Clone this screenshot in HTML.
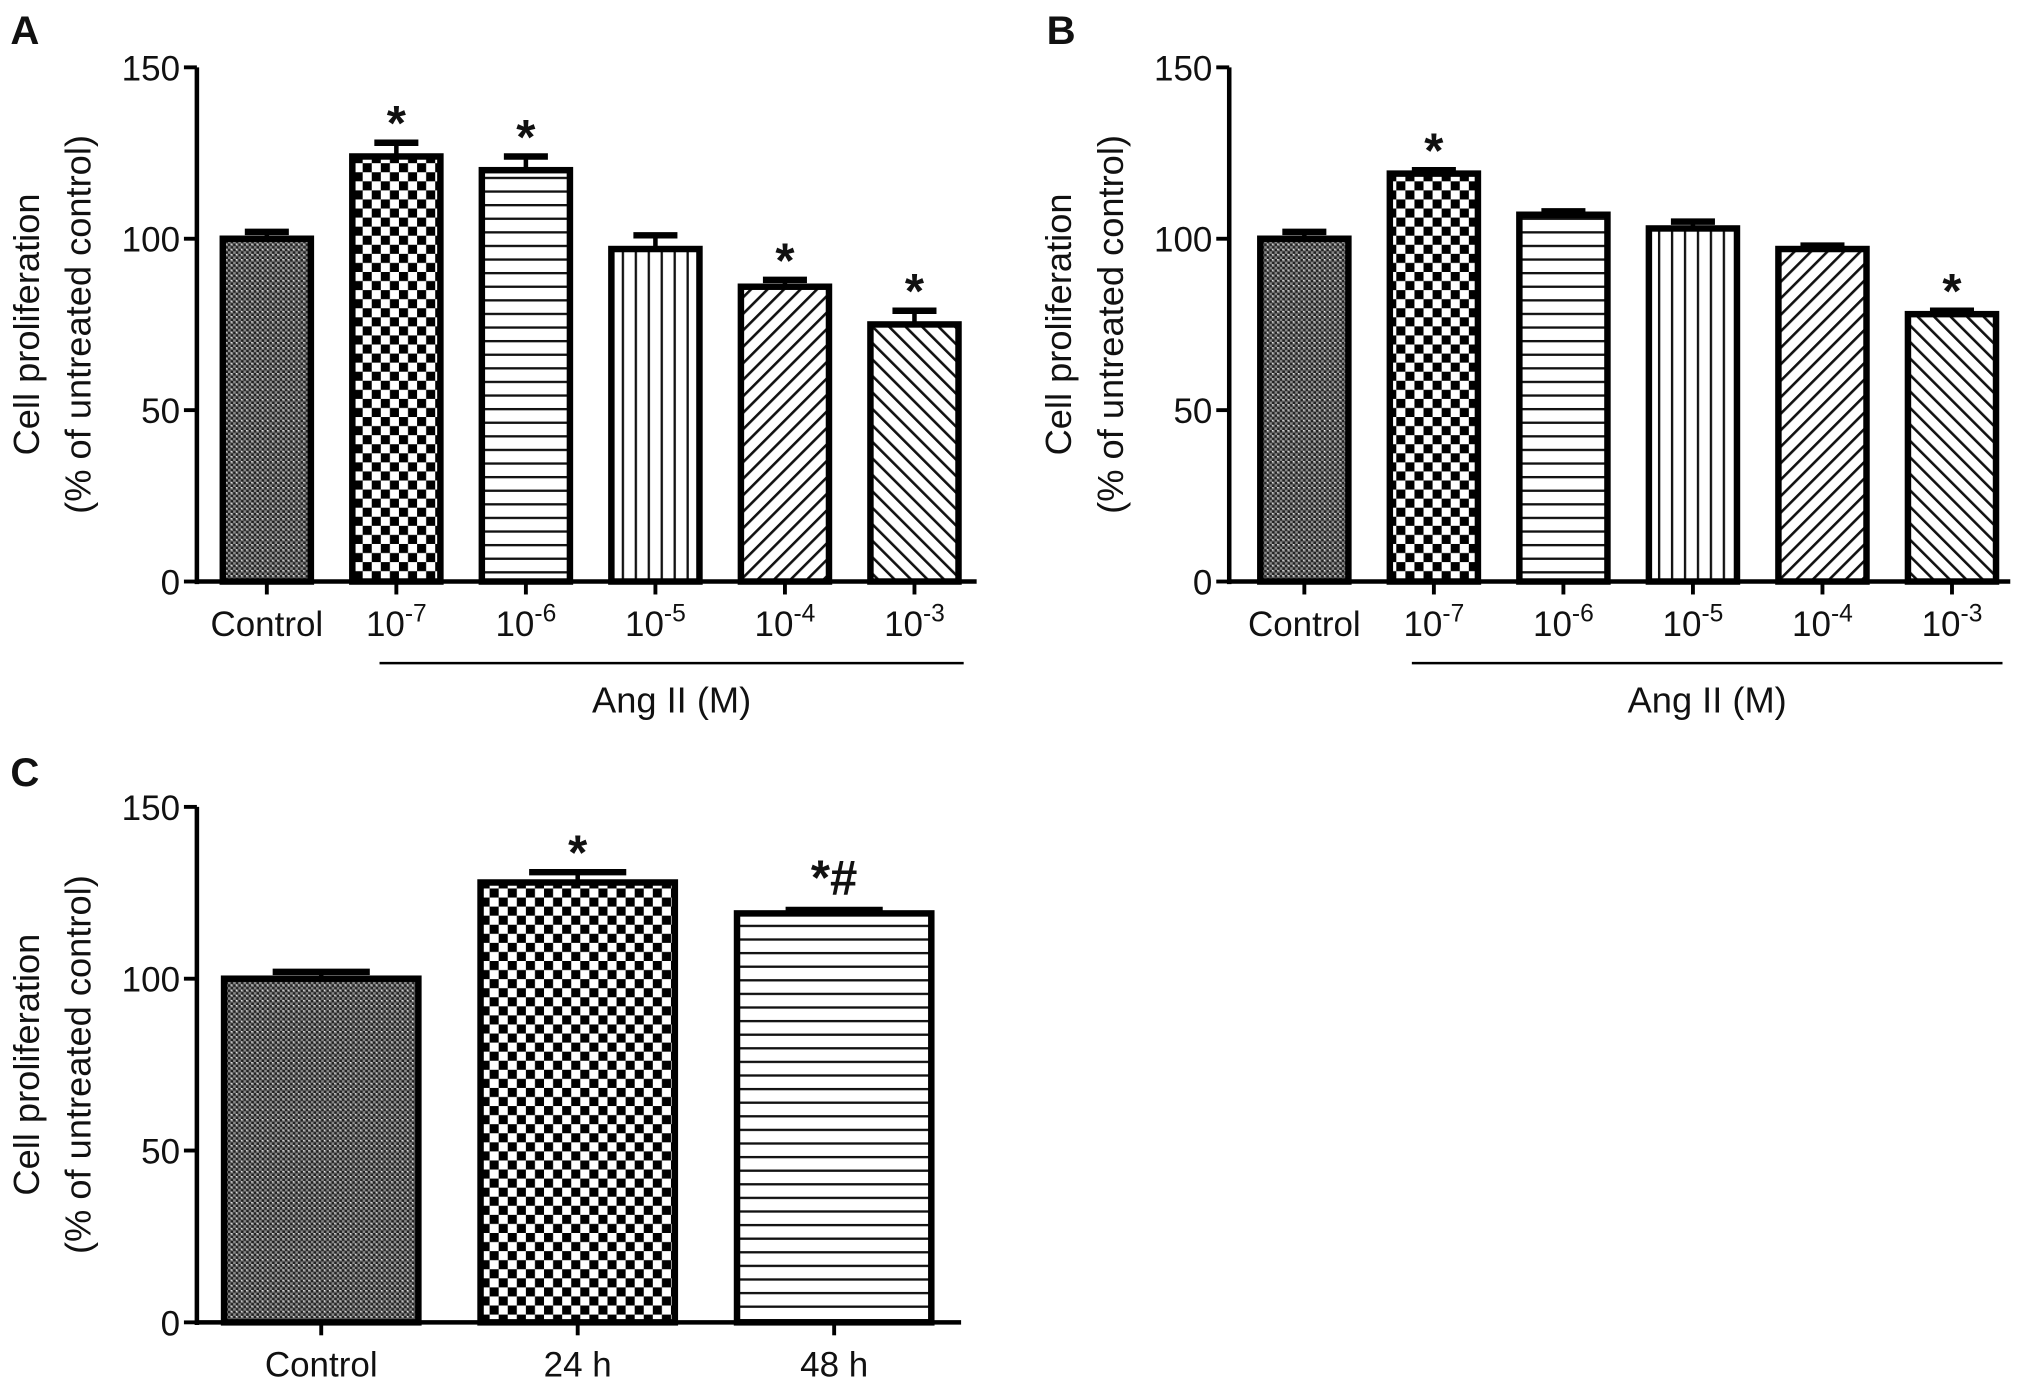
<!DOCTYPE html>
<html><head><meta charset="utf-8"><style>
html,body{margin:0;padding:0;background:#fff}
svg{display:block}
text{font-family:"Liberation Sans",Arial,sans-serif;fill:#111}
</style></head><body>
<svg id="fig" width="2031" height="1391" viewBox="0 0 1568 1074" preserveAspectRatio="none" xmlns="http://www.w3.org/2000/svg">
<defs>
<pattern id="p-fine" width="4" height="4" patternUnits="userSpaceOnUse"><rect width="4" height="4" fill="#888"/><rect width="2" height="2" fill="#222"/><rect x="2" y="2" width="2" height="2" fill="#222"/><rect x="2" width="1" height="1" fill="#eee"/></pattern>
<pattern id="p-checker" width="14" height="14" patternUnits="userSpaceOnUse"><rect width="14" height="14" fill="#fff"/><rect width="7" height="7" fill="#000"/><rect x="7" y="7" width="7" height="7" fill="#000"/></pattern>
<pattern id="p-hline" width="10" height="10.5" patternUnits="userSpaceOnUse"><rect width="10" height="10.5" fill="#fff"/><rect y="0" width="10" height="1.8" fill="#111"/></pattern>
<pattern id="p-vline" width="10" height="10" patternUnits="userSpaceOnUse"><rect width="10" height="10" fill="#fff"/><rect x="0" width="1.8" height="10" fill="#111"/></pattern>
<pattern id="p-diag1" width="9" height="9" patternUnits="userSpaceOnUse" patternTransform="rotate(45)"><rect width="9" height="9" fill="#fff"/><rect width="2" height="9" fill="#111"/></pattern>
<pattern id="p-diag2" width="9" height="9" patternUnits="userSpaceOnUse" patternTransform="rotate(-45)"><rect width="9" height="9" fill="#fff"/><rect width="2" height="9" fill="#111"/></pattern>
</defs>
</svg>
<script>
const catsAB = ["Control","10|-7","10|-6","10|-5","10|-4","10|-3"];
const valsA = [100,124,120,97,86,75];
const errA = [2,4,4,4,2,4];
const starA = ["","*","*","","*","*"];
const valsB = [100,119,107,103,97,78];
const errB = [2,1,1,2,1,1];
const starB = ["","*","","","","*"];
const catsC = ["Control","24 h","48 h"];
const valsC = [100,128,119];
const errC = [2,3,1];
const starC = ["","*","*#"];
const yTicks = [0,50,100,150];
const patsAB = ["p-fine","p-checker","p-hline","p-vline","p-diag1","p-diag2"];
const patsC = ["p-fine","p-checker","p-hline"];

const NS="http://www.w3.org/2000/svg";
const svg=document.getElementById('fig');
function mk(tag,attrs,parent){const e=document.createElementNS(NS,tag);for(const k in attrs)e.setAttribute(k,attrs[k]);(parent||svg).appendChild(e);return e;}

function panel(cfg){
  const g=mk('g',{});
  
  
  const y=v=>cfg.y0-(v/150)*(cfg.y0-cfg.y150);
  const x=i=>cfg.c0+i*cfg.step;
  const lt=mk('text',{x:cfg.lx,y:cfg.ly,'font-size':31,'font-weight':'bold'},g);lt.textContent=cfg.letter;
  
  
  cfg.vals.forEach((v,i)=>{
    const cx=x(i),w=cfg.bw;
    const eb=mk('g',{},g);
    
    
    mk('line',{x1:cx,x2:cx,y1:y(v),y2:y(v+cfg.err[i]),stroke:'#000','stroke-width':3.5},eb);
    mk('line',{x1:cx-w*0.25,x2:cx+w*0.25,y1:y(v+cfg.err[i]),y2:y(v+cfg.err[i]),stroke:'#000','stroke-width':5},eb);
    const r=mk('rect',{x:cx-w/2,y:y(v),width:w,height:y(0)-y(v),fill:'url(#'+cfg.pats[i]+')',stroke:'#000','stroke-width':5},g);
    
    
    if(cfg.stars[i]){
      const s=mk('text',{x:cx,y:y(v+cfg.err[i])-2+(cfg.stars[i].length>1?-10:0),'font-size':38,'font-weight':'bold','text-anchor':'middle'},g);
      s.textContent=cfg.stars[i];
      
      
    }
    mk('line',{x1:cx,x2:cx,y1:y(0),y2:y(0)+10,stroke:'#000','stroke-width':3},g);
    const t=mk('text',{x:cx,y:cfg.y0+42,'font-size':27,'text-anchor':'middle'},g);
    const parts=cfg.cats[i].split('|');
    t.textContent=parts[0];
    if(parts[1]){const sp=mk('tspan',{dy:-11,'font-size':19},t);sp.textContent=parts[1];}
    
    
  });
  const ax=mk('g',{},g);
  
  
  mk('line',{x1:cfg.ax,x2:cfg.ax,y1:y(150),y2:y(0)+2,stroke:'#000','stroke-width':3.5},ax);
  mk('line',{x1:cfg.ax,x2:cfg.xend,y1:y(0),y2:y(0),stroke:'#000','stroke-width':3.5},ax);
  yTicks.forEach(tv=>{
    mk('line',{x1:cfg.ax-10,x2:cfg.ax,y1:y(tv),y2:y(tv),stroke:'#000','stroke-width':3},ax);
    const t=mk('text',{x:cfg.ax-13,y:y(tv)+10,'font-size':27,'text-anchor':'end'},ax);
    t.textContent=tv;
    
    
  });
  const cy=(cfg.y0+cfg.y150)/2;
  const yl=mk('text',{transform:'translate('+(cfg.ax-122)+','+cy+') rotate(-90)','font-size':28,'text-anchor':'middle'},g);
  yl.textContent='Cell proliferation';
  
  
  const yl2=mk('text',{transform:'translate('+(cfg.ax-82)+','+cy+') rotate(-90)','font-size':28,'text-anchor':'middle'},g);
  yl2.textContent='(% of untreated control)';
  
  
  if(cfg.bracket){
    mk('line',{x1:cfg.bracket[0],x2:cfg.bracket[1],y1:cfg.y0+63,y2:cfg.y0+63,stroke:'#000','stroke-width':2},g);
    const at=mk('text',{x:(cfg.bracket[0]+cfg.bracket[1])/2,y:cfg.y0+101,'font-size':28,'text-anchor':'middle'},g);
    at.textContent='Ang II (M)';
    
    
  }
}
panel({letter:'A',lx:8,ly:34,ax:152,xend:754,y0:449,y150:52,c0:206,step:100,bw:68,cats:catsAB,vals:valsA,err:errA,stars:starA,pats:patsAB,bracket:[293,744]});
panel({letter:'B',lx:808,ly:34,ax:949,xend:1552,y0:449,y150:52,c0:1007,step:100,bw:68,cats:catsAB,vals:valsB,err:errB,stars:starB,pats:patsAB,bracket:[1090,1546]});
panel({letter:'C',lx:8,ly:607,ax:152,xend:742,y0:1021,y150:623,c0:248,step:198,bw:150,cats:catsC,vals:valsC,err:errC,stars:starC,pats:patsC});
</script>
</body></html>
